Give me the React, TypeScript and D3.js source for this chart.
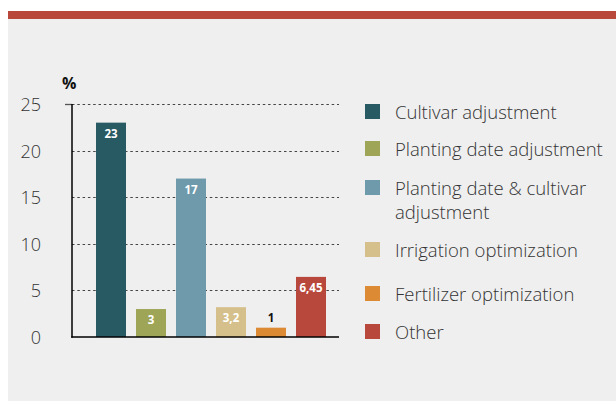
import React from "react";
import * as d3 from "d3";

const categories = [
  "Cultivar adjustment",
  "Planting date adjustment",
  "Planting date & cultivar adjustment",
  "Irrigation optimization",
  "Fertilizer optimization",
  "Other",
];
const values = [23, 3, 17, 3.2, 1, 6.45];
const valueLabels = ["23", "3", "17", "3,2", "1", "6,45"];
const colors = ["#285a63", "#9ea556", "#6e9aab", "#d5bf8a", "#dd8a35", "#b8473c"];
const legendLines = [
  ["Cultivar adjustment"],
  ["Planting date adjustment"],
  ["Planting date & cultivar", "adjustment"],
  ["Irrigation optimization"],
  ["Fertilizer optimization"],
  ["Other"],
];
const yTicks = [0, 5, 10, 15, 20, 25];

const W = 616;
const H = 401;
const FONT = "'Open Sans', 'Noto Sans', sans-serif";

export default function App() {
  const y = d3.scaleLinear().domain([0, 25]).range([337, 104]);
  const x = d3
    .scaleBand<string>()
    .domain(categories)
    .range([91, 331])
    .paddingInner(0.25)
    .paddingOuter(0.125);
  const axisX = 72;
  const plotRight = 339;
  const legendBaselines = [119, 156, 195, 257, 301, 339];

  return (
    <div style={{ position: "fixed", left: 0, top: 0, width: W, height: H }}>
      <svg width={W} height={H} style={{ display: "block" }} fontFamily={FONT}>
        <rect x={0} y={0} width={W} height={H} fill="#ffffff" />
        <rect x={8} y={11} width={W - 8} height={8} fill="#b8473c" />
        <rect x={8} y={19} width={W - 8} height={H - 19} fill="#efefef" />

        {/* gridlines */}
        {yTicks
          .filter((t) => t > 0)
          .map((t) => (
            <line
              key={"g" + t}
              x1={axisX}
              x2={plotRight}
              y1={Math.round(y(t)) + 0.5}
              y2={Math.round(y(t)) + 0.5}
              stroke="#444"
              strokeWidth={1}
              strokeDasharray="2.5,2.8"
            />
          ))}
        {/* top tick */}
        <line x1={65} x2={axisX} y1={Math.round(y(25)) + 0.5} y2={Math.round(y(25)) + 0.5} stroke="#555" strokeWidth={1.3} />

        {/* tick labels */}
        {yTicks.map((t) => (
          <text
            key={"t" + t}
            x={41}
            y={y(t) + 7}
            textAnchor="end"
            fontSize={18}
            fontWeight={300}
            fill="#333"
          >
            {t}
          </text>
        ))}
        <text x={62} y={89} fontSize={16} fontWeight={700} fill="#111">
          %
        </text>

        {/* bars */}
        {categories.map((c, i) => (
          <rect
            key={"b" + i}
            x={x(c)}
            y={y(values[i])}
            width={x.bandwidth()}
            height={y(0) - y(values[i])}
            fill={colors[i]}
          />
        ))}
        {categories.map((c, i) => {
          const inside = values[i] >= 2;
          return (
            <text
              key={"l" + i}
              x={(x(c) as number) + x.bandwidth() / 2}
              y={inside ? y(values[i]) + 15 : y(values[i]) - 6}
              textAnchor="middle"
              fontSize={11.5}
              fontWeight={700}
              fill={inside ? "#ffffff" : "#111"}
            >
              {valueLabels[i]}
            </text>
          );
        })}

        {/* axes */}
        <line x1={axisX} x2={axisX} y1={y(25)} y2={y(0) + 0.75} stroke="#000" strokeWidth={1.5} />
        <line x1={axisX - 0.75} x2={plotRight} y1={y(0)} y2={y(0)} stroke="#000" strokeWidth={1.5} />

        {/* legend */}
        {legendLines.map((lines, i) => (
          <g key={"lg" + i}>
            <rect x={365} y={legendBaselines[i] - 15} width={15} height={15} fill={colors[i]} />
            {lines.map((ln, j) => (
              <text
                key={j}
                x={395}
                y={legendBaselines[i] + j * 24}
                fontSize={18.5}
                fontWeight={300}
                fill="#333"
              >
                {ln}
              </text>
            ))}
          </g>
        ))}
      </svg>
    </div>
  );
}
